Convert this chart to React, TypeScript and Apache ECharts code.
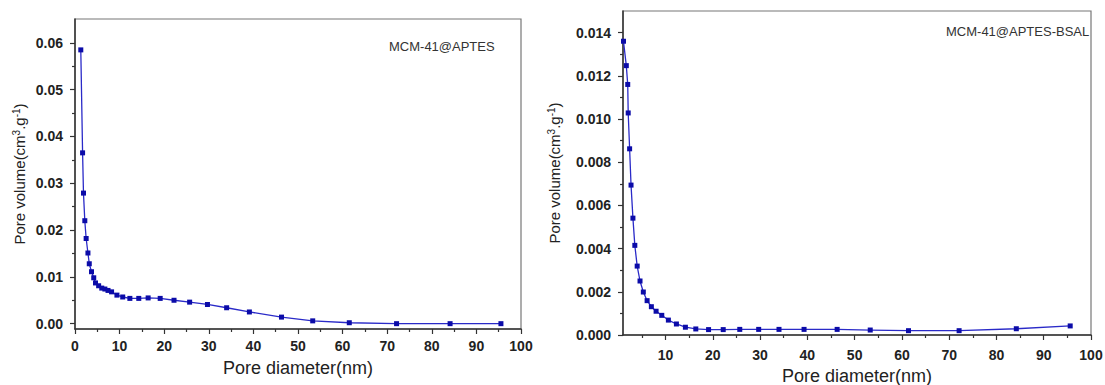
import React, { useEffect, useRef } from "react";
import * as echarts from "echarts";

// ---- data ----
const leftX = [1.3, 1.7, 1.9, 2.2, 2.5, 2.9, 3.2, 3.7, 4.2, 4.6, 5.3, 6.0, 6.7, 7.4, 8.2, 9.4, 10.7, 12.3, 14.3, 16.4, 19.1, 22.2, 25.7, 29.7, 34.0, 39.1, 46.3, 53.3, 61.5, 72.1, 84.1, 95.5];
const leftY = [0.0585, 0.0365, 0.0279, 0.0220, 0.0182, 0.0151, 0.0128, 0.0111, 0.0098, 0.0087, 0.0081, 0.0076, 0.0074, 0.0071, 0.0068, 0.0061, 0.0057, 0.0054, 0.0054, 0.0055, 0.0054, 0.0050, 0.0046, 0.0041, 0.0034, 0.0025, 0.0014, 0.0006, 0.0002, 0.0, 0.0, 0.0];

const rightX = [1.1, 1.7, 2.0, 2.1, 2.4, 2.7, 3.1, 3.5, 4.0, 4.6, 5.3, 6.1, 7.0, 8.0, 9.2, 10.6, 12.3, 14.2, 16.4, 19.1, 22.2, 25.7, 29.7, 34.0, 39.3, 46.3, 53.3, 61.4, 72.1, 84.2, 95.6];
const rightY = [0.0136, 0.01247, 0.0116, 0.01028, 0.00862, 0.00694, 0.00541, 0.00415, 0.00319, 0.0025, 0.00199, 0.00159, 0.00131, 0.0011, 0.00091, 0.00069, 0.00051, 0.00036, 0.00028, 0.00025, 0.00025, 0.00026, 0.00026, 0.00026, 0.00026, 0.00026, 0.00023, 0.0002, 0.0002, 0.00029, 0.00042];

const leftXMajor = [0, 10, 20, 30, 40, 50, 60, 70, 80, 90, 100];
const leftXMinor = [5, 15, 25, 35, 45, 55, 65, 75, 85, 95];
const leftYMajor = [0, 0.01, 0.02, 0.03, 0.04, 0.05, 0.06];
const leftYMinor = [0.005, 0.015, 0.025, 0.035, 0.045, 0.055];

const rightXMajor = [10, 20, 30, 40, 50, 60, 70, 80, 90, 100];
const rightXMinor = [5, 15, 25, 35, 45, 55, 65, 75, 85, 95];
const rightYMajor = [0, 0.002, 0.004, 0.006, 0.008, 0.01, 0.012, 0.014];
const rightYMinor = [0.001, 0.003, 0.005, 0.007, 0.009, 0.011, 0.013];

const leftLabel = "MCM-41@APTES";
const rightLabel = "MCM-41@APTES-BSAL";
const xTitle = "Pore diameter(nm)";
const yTitle = "Pore volume(cm{sup|3}.g{sup|-1})";

const FONT = "'Liberation Sans', Arial, sans-serif";
const AXIS = "#333";

function mainX(grid: number, min: number, max: number, major: number[], gap: number, margin: number) {
  return {
    type: "value",
    gridIndex: grid,
    min,
    max,
    position: "bottom",
    axisLine: { show: true, onZero: false, lineStyle: { color: AXIS, width: 1.5 } },
    axisTick: { show: true, inside: false, length: 5, customValues: major, lineStyle: { color: AXIS, width: 1.2 } },
    axisLabel: {
      customValues: major,
      fontSize: 14,
      fontWeight: "bold",
      color: "#222",
      fontFamily: FONT,
      margin,
    },
    splitLine: { show: false },
    name: xTitle,
    nameLocation: "middle",
    nameGap: gap,
    nameTextStyle: { fontSize: 18, color: "#222", fontFamily: FONT },
  };
}

function minorX(grid: number, min: number, max: number, minor: number[]) {
  return {
    type: "value",
    gridIndex: grid,
    min,
    max,
    position: "bottom",
    axisLine: { show: false, onZero: false },
    axisTick: { show: true, inside: false, length: 3, customValues: minor, lineStyle: { color: AXIS, width: 1.2 } },
    axisLabel: { show: false },
    splitLine: { show: false },
  };
}

function mainY(grid: number, min: number, max: number, major: number[], digits: number, gap: number) {
  return {
    type: "value",
    gridIndex: grid,
    min,
    max,
    position: "left",
    axisLine: { show: true, onZero: false, lineStyle: { color: AXIS, width: 1.5 } },
    axisTick: { show: true, inside: false, length: 5, customValues: major, lineStyle: { color: AXIS, width: 1.2 } },
    axisLabel: {
      customValues: major,
      formatter: (v: number) => v.toFixed(digits),
      fontSize: 14,
      fontWeight: "bold",
      color: "#222",
      fontFamily: FONT,
      margin: 12,
    },
    splitLine: { show: false },
    name: yTitle,
    nameLocation: "middle",
    nameRotate: 90,
    nameGap: gap,
    nameTextStyle: {
      fontSize: 15,
      color: "#222",
      fontFamily: FONT,
      rich: {
        sup: { fontSize: 10, verticalAlign: "top", color: "#222", fontFamily: FONT, padding: [0, 0, 6, 0] },
      },
    },
  };
}

function minorY(grid: number, min: number, max: number, minor: number[]) {
  return {
    type: "value",
    gridIndex: grid,
    min,
    max,
    position: "left",
    axisLine: { show: false, onZero: false },
    axisTick: { show: true, inside: false, length: 3, customValues: minor, lineStyle: { color: AXIS, width: 1.2 } },
    axisLabel: { show: false },
    splitLine: { show: false },
  };
}

function seriesOf(xs: number[], ys: number[], idx: number, axisBase: number) {
  return {
    type: "line",
    xAxisIndex: axisBase,
    yAxisIndex: axisBase,
    data: xs.map((x, i) => [x, ys[i]]),
    symbol: "rect",
    symbolSize: 5,
    showSymbol: true,
    lineStyle: { color: "#2a2ac8", width: 1.3 },
    itemStyle: { color: "#0b0ba8" },
    z: 3 + idx,
  };
}

export default function App() {
  const ref = useRef<HTMLDivElement>(null);
  useEffect(() => {
    if (!ref.current) return;
    const chart = echarts.init(ref.current, undefined, { renderer: "svg" });
    const option = {
      animation: false,
      backgroundColor: "#ffffff",
      textStyle: { fontFamily: FONT },
      grid: [
        { left: 75, top: 19, width: 446, height: 310, show: true, borderColor: "#777", borderWidth: 1.2, containLabel: false, outerBoundsMode: "none" },
        { left: 623, top: 11, width: 468, height: 324, show: true, borderColor: "#777", borderWidth: 1.2, containLabel: false, outerBoundsMode: "none" },
      ],
      xAxis: [
        mainX(0, 0, 100, leftXMajor, 30, 10),
        minorX(0, 0, 100, leftXMinor),
        mainX(1, 1, 100, rightXMajor, 30, 13),
        minorX(1, 1, 100, rightXMinor),
      ],
      yAxis: [
        mainY(0, -0.00114, 0.0651, leftYMajor, 2, 48),
        minorY(0, -0.00114, 0.0651, leftYMinor),
        mainY(1, 0, 0.015, rightYMajor, 3, 61),
        minorY(1, 0, 0.015, rightYMinor),
      ],
      series: [seriesOf(leftX, leftY, 0, 0), seriesOf(rightX, rightY, 1, 2)],
      graphic: [
        {
          type: "text",
          left: 389,
          top: 40,
          style: { text: leftLabel, fontSize: 13, fill: "#333", fontFamily: FONT },
        },
        {
          type: "text",
          left: 946,
          top: 25,
          style: { text: rightLabel, fontSize: 13, fill: "#333", fontFamily: FONT },
        },
      ],
    };
    chart.setOption(option as any);
    return () => chart.dispose();
  }, []);
  return (
    <div
      ref={ref}
      style={{ position: "absolute", left: 0, top: 0, width: 1105, height: 385 }}
    />
  );
}
